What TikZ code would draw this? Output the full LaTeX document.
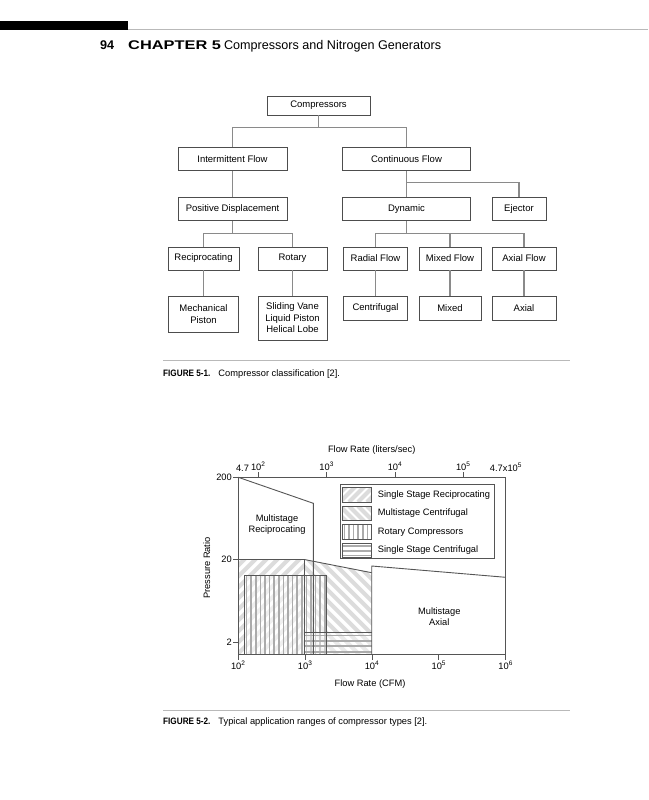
\documentclass[tikz,border=0pt]{standalone}
\usepackage{fontspec}
\setmainfont{Liberation Sans}
\newfontfamily\headfont[FakeStretch=1.3]{Liberation Sans}
\newfontfamily\capfont[FakeStretch=0.88]{Liberation Sans}
\usetikzlibrary{positioning}

\definecolor{boxgray}{HTML}{4D4D4D}
\definecolor{linkgray}{HTML}{8A8A8A}
\definecolor{axisgray}{HTML}{555555}
\definecolor{hatchgray}{HTML}{DCDCDC}
\definecolor{stripegray}{HTML}{ABABAB}
\definecolor{rulegray}{HTML}{B9B9B9}

\tikzset{
  box/.style={draw=boxgray, line width=0.8pt, inner sep=1pt, align=center,
    minimum height=23pt, font=\fontsize{9.5}{11.5}\selectfont},
  link/.style={draw=linkgray, line width=1.1pt},
  axisline/.style={draw=axisgray, line width=0.9pt},
  region/.style={draw=axisgray, line width=0.9pt},
  hatch/.style={draw=hatchgray, line width=4pt},
  stripe/.style={draw=stripegray, line width=1.7pt},
  chartlbl/.style={font=\fontsize{9.3}{11}\selectfont, inner sep=0pt, align=center},
  caption/.style={anchor=base west, inner sep=0pt, font=\fontsize{9.3}{11}\selectfont}
}

\begin{document}
\begin{tikzpicture}[x=1pt, y=-1pt]
\useasboundingbox (0,0) rectangle (648,800);

% running head
\fill[black] (0,21) rectangle (128,30.5);
\draw[rulegray, line width=1.5pt] (128,29.7) -- (648,29.7);
\node[anchor=base west, inner sep=0pt, font=\fontsize{12.6}{14}\selectfont\bfseries] (pagenum) at (100,49) {94};
\node[anchor=base west, inner sep=0pt, font=\fontsize{12.6}{14}\selectfont] (runhead) at (128,49)
  {{\headfont\bfseries CHAPTER 5}\hspace{3pt}Compressors and Nitrogen Generators};

% Figure 5-1: classification tree
\node[box, minimum width=103pt, minimum height=19pt] (comp) at (318.5,105.5) {Compressors};
\node[box, minimum width=109pt] (inter) at (232.5,159) {Intermittent Flow};
\node[box, minimum width=128pt] (cont) at (406.5,159) {Continuous Flow};
\node[box, minimum width=109pt] (posdisp) at (232.5,209) {Positive Displacement};
\node[box, minimum width=128pt] (dyn) at (406.5,209) {Dynamic};
\node[box, minimum width=54pt] (eject) at (519,209) {Ejector};
\node[box, minimum width=71pt] (recip) at (203.5,258.5) {Reciprocating};
\node[box, minimum width=69pt] (rot) at (292.5,258.5) {Rotary};
\node[box, minimum width=64pt] (radial) at (375.5,258.5) {Radial Flow};
\node[box, minimum width=62pt] (mixflow) at (450,258.5) {Mixed Flow};
\node[box, minimum width=64pt] (axflow) at (524,258.5) {Axial Flow};
\node[box, minimum width=70pt, minimum height=36pt] (mech) at (203.5,314) {Mechanical\\Piston};
\node[box, minimum width=69pt, minimum height=44pt] (slide) at (292.5,318) {Sliding Vane\\Liquid Piston\\Helical Lobe};
\node[box, minimum width=64pt, minimum height=24pt] (centr) at (375.5,308) {Centrifugal};
\node[box, minimum width=62pt, minimum height=24pt] (mixed) at (450,308) {Mixed};
\node[box, minimum width=64pt, minimum height=24pt] (axial) at (524,308) {Axial};

% connectors
\draw[link] (comp.south) -- ++(0,12) -| (inter.north);
\draw[link] (comp.south) -- ++(0,12) -| (cont.north);
\draw[link] (inter) -- (posdisp);
\draw[link] (cont) -- (dyn);
\draw[link] (cont.south) -- ++(0,12) -| (eject.north);
\draw[link] (posdisp.south) -- ++(0,13) -| (recip.north);
\draw[link] (posdisp.south) -- ++(0,13) -| (rot.north);
\draw[link] (dyn.south) -- ++(0,13) -| (radial.north);
\draw[link] (dyn.south) -- ++(0,13) -| (mixflow.north);
\draw[link] (dyn.south) -- ++(0,13) -| (axflow.north);
\draw[link] (recip) -- (mech);
\draw[link] (rot) -- (slide);
\draw[link] (radial) -- (centr);
\draw[link] (mixflow) -- (mixed);
\draw[link] (axflow) -- (axial);

% caption 5-1
\draw[rulegray, line width=0.8pt] (163,360.5) -- (570,360.5);
\node[caption] (cap1) at (163,376) {{\capfont\bfseries FIGURE 5-1.}\hspace{8pt}Compressor classification [2].};

% Figure 5-2: application ranges
% single stage reciprocating hatch
\begin{scope}
  \clip (238.3,559.5) rectangle (304.3,654.5);
  \foreach \a in {0,...,16}
    \draw[hatch] (138.3+\a*11,654.5) -- ++(100,-100);
\end{scope}
% multistage centrifugal hatch
\begin{scope}
  \clip (304.3,559.5) -- (371.7,572.7) -- (371.7,654.5) -- (304.3,654.5) -- cycle;
  \foreach \a in {0,...,16}
    \draw[hatch] (204.3+\a*11,554.5) -- ++(100,100);
\end{scope}
% rotary stripes
\fill[white, fill opacity=0.55] (244.3,575.7) rectangle (326.7,654.5);
\foreach \a in {0,...,17}
  \draw[stripe] (246.6+\a*4.6,575.7) -- ++(0,78.8);
% single stage centrifugal stripes
\fill[white, fill opacity=0.4] (304.3,632.5) rectangle (371.7,654.5);
\foreach \a in {0,...,3}
  \draw[stripe] (304.3,635.5+\a*5.4) -- ++(67.4,0);

% region outlines
\draw[region] (238.3,477.3) -- (313.3,503.3) -- (313.3,654.5);
\draw[region] (238.3,559.5) -- (304.3,559.5) -- (371.7,572.7);
\draw[region] (304.3,559.5) -- (304.3,654.5);
\draw[region] (244.3,654.5) -- (244.3,575.7) -- (326.7,575.7) -- (326.7,654.5);
\draw[region] (304.3,632.5) -- (371.7,632.5);
\draw[region] (371.7,654.5) -- (371.7,566) -- (505.7,577.3);
\node[chartlbl] (recipname) at (277,525) {Multistage\\Reciprocating};
\node[chartlbl] (axialname) at (439.3,616.7) {Multistage\\Axial};

% axes
\draw[axisline] (238.3,477.3) rectangle (505.7,654.5);
\foreach \xx/\ee in {238.3/2,305.15/3,372/4,438.85/5,505.7/6}{
  \draw[axisline] (\xx,654.5) -- ++(0,5);
  \node[chartlbl, below] at (\xx,661) {10\textsuperscript{\ee}};
}
\foreach \xx/\ee in {258.3/2,326.7/3,395/4,463.3/5}{
  \draw[axisline] (\xx,477.3) -- ++(0,-5);
  \node[chartlbl, above] at (\xx,471) {10\textsuperscript{\ee}};
}
\node[chartlbl, above] (lsmin) at (242.5,471.5) {4.7};
\node[chartlbl, above] (lsmax) at (506,471.5) {4.7x10\textsuperscript{5}};
\foreach \yy/\vv in {477.3/200,559.5/20,642.5/2}{
  \draw[axisline] (238.3,\yy) -- ++(-5,0);
  \node[chartlbl, left] at (232,\yy) {\vv};
}
\node[chartlbl] (toptitle) at (371.7,450) {Flow Rate (liters/sec)};
\node[chartlbl] (bottitle) at (370,684) {Flow Rate (CFM)};
\node[chartlbl, rotate=90] (ytitle) at (206.7,568) {Pressure Ratio};

% legend
\draw[region, fill=white] (340,484.7) rectangle (494.5,558.7);
\begin{scope}
  \clip (342.3,487.5) rectangle (371,502);
  \foreach \a in {0,...,5} \draw[hatch] (322+\a*9,502) -- ++(20,-20);
\end{scope}
\begin{scope}
  \clip (342.3,506) rectangle (371,520.5);
  \foreach \a in {0,...,5} \draw[hatch] (322+\a*9,506) -- ++(20,20);
\end{scope}
\foreach \a in {0,...,5}
  \draw[stripe] (344.4+\a*4.6,524.5) -- ++(0,14.5);
\foreach \a in {0,...,2}
  \draw[stripe] (342.3,546+\a*4.8) -- ++(28.7,0);
\foreach \ty in {487.5,506,524.5,543}
  \draw[region, line width=0.7pt] (342.3,\ty) rectangle ++(28.7,14.5);
\node[chartlbl, anchor=west] (leg1) at (377.7,494.8) {Single Stage Reciprocating};
\node[chartlbl, anchor=west] (leg2) at (377.7,513.3) {Multistage Centrifugal};
\node[chartlbl, anchor=west] (leg3) at (377.7,531.8) {Rotary Compressors};
\node[chartlbl, anchor=west] (leg4) at (377.7,550.3) {Single Stage Centrifugal};

% caption 5-2
\draw[rulegray, line width=0.8pt] (163,710.5) -- (570,710.5);
\node[caption] (cap2) at (163,724) {{\capfont\bfseries FIGURE 5-2.}\hspace{8pt}Typical application ranges of compressor types [2].};
\end{tikzpicture}
\end{document}
